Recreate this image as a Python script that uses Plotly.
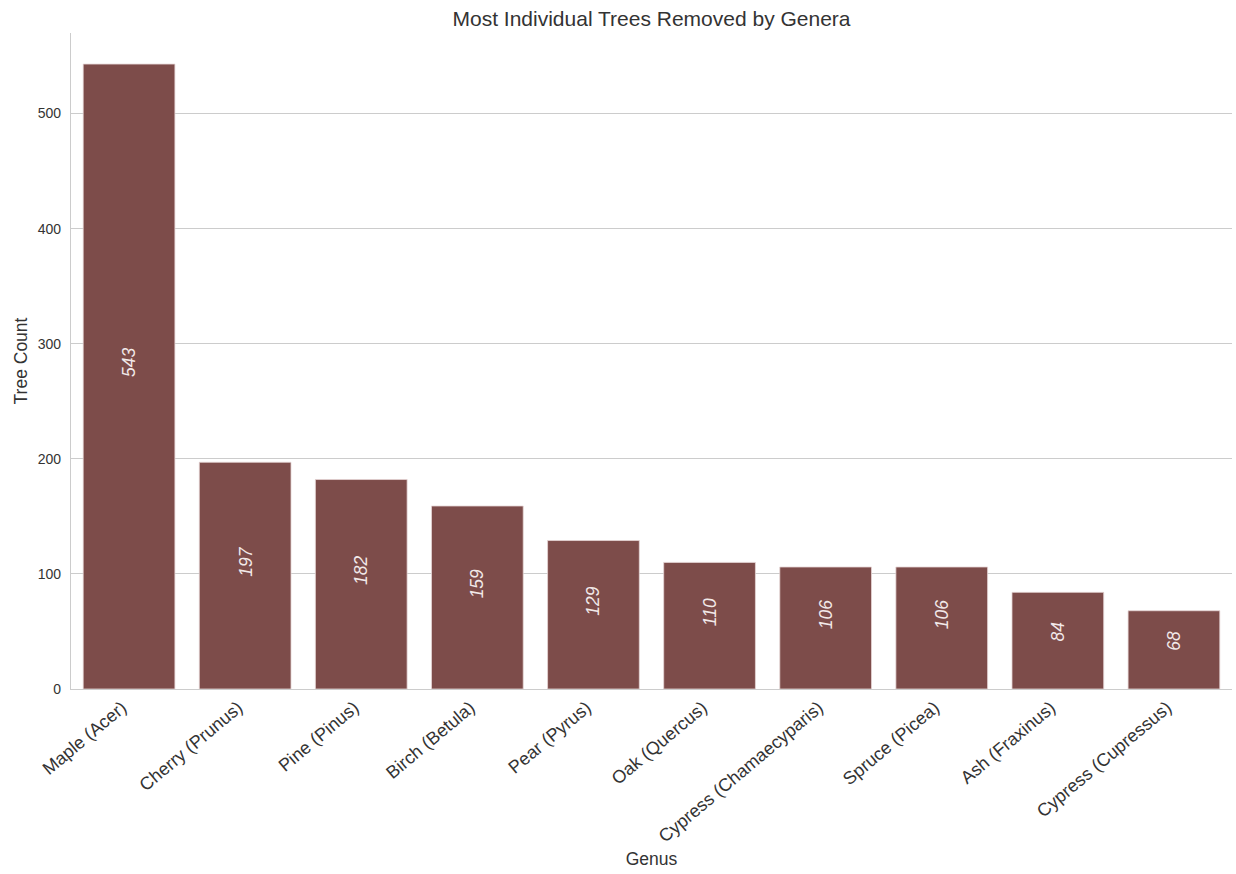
import plotly.graph_objects as go

genera = ["Maple (Acer)", "Cherry (Prunus)", "Pine (Pinus)", "Birch (Betula)", "Pear (Pyrus)",
          "Oak (Quercus)", "Cypress (Chamaecyparis)", "Spruce (Picea)", "Ash (Fraxinus)",
          "Cypress (Cupressus)"]
counts = [543, 197, 182, 159, 129, 110, 106, 106, 84, 68]

BAR = "#7d4c4a"
FONT = "Liberation Sans, Arial, sans-serif"
TXT = "#333333"

fig = go.Figure()
fig.add_trace(go.Bar(
    x=list(range(len(genera))), y=counts, width=0.79,
    marker=dict(color=BAR, line=dict(color="#e6d5d5", width=0.8)),
    showlegend=False, hoverinfo="skip",
))

for i, v in enumerate(counts):
    fig.add_annotation(x=i, y=v / 2, text="<i>" + str(v) + "</i>", showarrow=False, textangle=-90,
                       xanchor="center", yanchor="bottom", yshift=-3,
                       font=dict(family=FONT, size=17.5, color="#f2e9e9"),
                       xref="x", yref="y")

fig.update_layout(
    width=1236, height=874,
    margin=dict(l=71, r=4, t=33, b=185),
    paper_bgcolor="white", plot_bgcolor="white",
    font=dict(family=FONT, color=TXT),
    title=dict(text="Most Individual Trees Removed by Genera", x=0.5, xanchor="center",
               xref="paper", y=0.979, yanchor="middle",
               font=dict(size=21, color=TXT)),
    xaxis=dict(
        tickmode="array", tickvals=list(range(len(genera))), ticktext=genera,
        tickangle=-40, tickfont=dict(size=18, color=TXT),
        ticklabelshift=-7,
        range=[-0.5, 9.5], showgrid=False, zeroline=False, automargin=False,
        showline=True, linecolor="#cccccc", linewidth=1.2, ticks="",
        title=dict(text="Genus", font=dict(size=17.5, color=TXT), standoff=7),
    ),
    yaxis=dict(
        range=[0, 570], tickvals=[0, 100, 200, 300, 400, 500],
        tickfont=dict(size=14, color=TXT), automargin=False,
        showgrid=True, gridcolor="#cccccc", gridwidth=1, zeroline=False,
        showline=True, linecolor="#cccccc", linewidth=1.2, ticks="",
        ticklabelstandoff=6,
        title=dict(text="Tree Count", font=dict(size=17.5, color=TXT), standoff=5),
    ),
    bargap=0.2,
)

fig.write_html("out.html", config={"displayModeBar": False},
               post_script="document.body.style.margin='0';")
